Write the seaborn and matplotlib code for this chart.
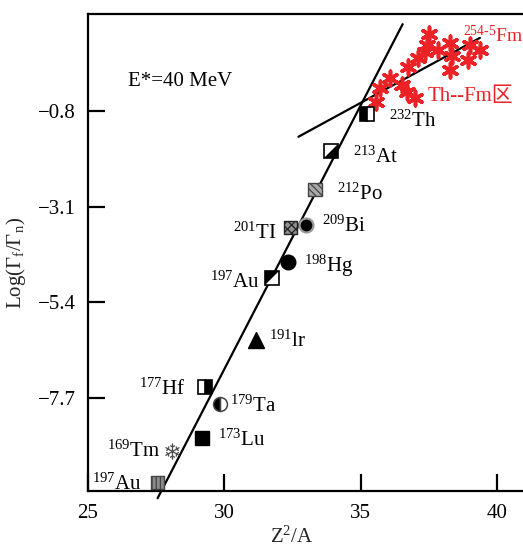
import numpy as np
import pandas as pd
import matplotlib
matplotlib.use("Agg")
import matplotlib.pyplot as plt
import seaborn as sns
from matplotlib.markers import MarkerStyle
from matplotlib.path import Path
from matplotlib.textpath import TextPath
from matplotlib.font_manager import FontProperties

# ---- data -------------------------------------------------------------
mass_numbers = ["197", "169", "173", "177", "179", "191", "197",
                "198", "201", "209", "212", "213", "232"]
symbols = ["Au", "Tm", "Lu", "Hf", "Ta", "lr", "Au",
           "Hg", "TI", "Bi", "Po", "At", "Th"]
z2_over_a = [27.55, 28.04, 29.19, 29.29, 29.84, 31.14, 31.75,
             32.34, 32.43, 33.00, 33.32, 33.90, 35.23]
log_ratio = [-9.75, -8.98, -8.66, -7.45, -7.84, -6.31, -4.81,
             -4.44, -3.61, -3.54, -2.68, -1.76, -0.87]

# Th--Fm systematics
thfm_z2a = [35.54, 35.70, 36.07, 36.50, 36.68, 36.98, 36.74, 37.10, 37.35,
            37.50, 37.83, 38.27, 38.34, 39.00, 39.36, 38.92, 38.27, 37.42]
thfm_log = [-0.58, -0.25, -0.01, -0.17, -0.34, -0.49, 0.27, 0.47, 0.63,
            1.05, 0.67, 0.84, 0.52, 0.79, 0.67, 0.43, 0.19, 0.79]

# fitted trend lines (end points)
steep_x = [27.55, 36.53]
steep_y = [-10.12, 1.29]
shallow_x = [32.71, 39.36]
shallow_y = [-1.42, 0.96]

x_ticks = [25, 30, 35, 40]
y_ticks = [-0.8, -3.1, -5.4, -7.7]

# ---- style ------------------------------------------------------------
sns.set_style("ticks")
plt.rcParams["font.family"] = ["Liberation Serif", "Noto Sans CJK SC"]
plt.rcParams["mathtext.fontset"] = "custom"
plt.rcParams["mathtext.rm"] = "Liberation Serif"
plt.rcParams["mathtext.it"] = "Liberation Serif:italic"
plt.rcParams["mathtext.default"] = "regular"
plt.rcParams["hatch.linewidth"] = 0.9

RED = "#ec2227"

fig = plt.figure(figsize=(5.23, 5.47), dpi=100)
ax = fig.add_axes([88 / 523, 56 / 547, 435 / 523, 477 / 547])

# trend lines
sns.lineplot(x=steep_x, y=steep_y, ax=ax, color="black", lw=1.6,
             clip_on=False, zorder=2)
sns.lineplot(x=shallow_x, y=shallow_y, ax=ax, color="black", lw=1.6,
             zorder=2)

# Th--Fm asterisks
sns.scatterplot(x=thfm_z2a, y=thfm_log, ax=ax, marker=(6, 2, 0), s=110,
                color=RED, linewidth=2.6, zorder=3)

# custom marker shapes
tri_lower_right = MarkerStyle(Path([(-1, -1), (1, -1), (1, 1), (-1, -1)],
                                   closed=True))
tri_upper_left = MarkerStyle(Path([(-1, -1), (-1, 1), (1, 1), (-1, -1)],
                                  closed=True))
_tp = TextPath((0, 0), "\u2744", prop=FontProperties(family="DejaVu Sans"))
_v = _tp.vertices
_c = (_v.min(axis=0) + _v.max(axis=0)) / 2
snowflake = MarkerStyle(Path(_v - _c, _tp.codes))

MS = 9.5  # square side in points


def pt(i):
    return [z2_over_a[i]], [log_ratio[i]]


# 0: 197Au (bottom) vertical stripes
x, y = pt(0)
sns.scatterplot(x=x, y=y, ax=ax, marker="s", s=MS ** 2, color="#8a8a8a",
                edgecolor="#444444", linewidth=1.0, hatch="||||",
                clip_on=False, zorder=4)
# 1: 169Tm snowflake
x, y = pt(1)
ax.plot(x, y, linestyle="none", marker=snowflake, ms=12, color="#505050",
        mew=0, zorder=4)
# 2: 173Lu solid square
x, y = pt(2)
ax.plot(x, y, linestyle="none", marker="s", ms=MS, mfc="black", mec="black",
        zorder=4)
# 3: 177Hf right-half filled square
x, y = pt(3)
ax.plot(x, y, linestyle="none", marker="s", ms=MS, fillstyle="right",
        mfc="black", mfcalt="white", mec="black", mew=1.2, zorder=4)
# 4: 179Ta left-half filled circle
x, y = pt(4)
ax.plot(x, y, linestyle="none", marker="o", ms=10, fillstyle="left",
        mfc="black", mfcalt="white", mec="#444444", mew=1.1, zorder=4)
# 5: 191Ir solid triangle
x, y = pt(5)
ax.plot(x, y, linestyle="none", marker="^", ms=11, mfc="black", mec="black",
        zorder=4)
# 6: 197Au square with upper-left triangle filled
x, y = pt(6)
ax.plot(x, y, linestyle="none", marker="s", ms=MS, mfc="white", mec="black",
        mew=1.2, zorder=4)
ax.plot(x, y, linestyle="none", marker=tri_upper_left, ms=MS, mfc="black",
        mew=0, zorder=5)
# 7: 198Hg solid circle
x, y = pt(7)
ax.plot(x, y, linestyle="none", marker="o", ms=10.5, mfc="black",
        mec="black", zorder=4)
# 8: 201Tl checkered square
x, y = pt(8)
sns.scatterplot(x=x, y=y, ax=ax, marker="s", s=MS ** 2, color="#8f8f8f",
                edgecolor="#222222", linewidth=1.0, hatch="xxxx", zorder=4)
# 9: 209Bi solid circle with grey rim
x, y = pt(9)
ax.plot(x, y, linestyle="none", marker="o", ms=10, mfc="black",
        mec="#9a9a9a", mew=1.6, zorder=5)
# 10: 212Po diagonal hatched square
x, y = pt(10)
sns.scatterplot(x=x, y=y, ax=ax, marker="s", s=MS ** 2, color="#a8a8a8",
                edgecolor="#444444", linewidth=1.0, hatch="\\\\\\\\\\",
                zorder=4)
# 11: 213At square with lower-right triangle filled
x, y = pt(11)
ax.plot(x, y, linestyle="none", marker="s", ms=MS, mfc="white", mec="black",
        mew=1.2, zorder=4)
ax.plot(x, y, linestyle="none", marker=tri_lower_right, ms=MS, mfc="black",
        mew=0, zorder=5)
# 12: 232Th left-half filled square
x, y = pt(12)
ax.plot(x, y, linestyle="none", marker="s", ms=MS, fillstyle="left",
        mfc="black", mfcalt="white", mec="black", mew=1.2, zorder=4)

# nuclide labels: (dx, dy) pixel offsets from the marker, alignment
label_place = [(-16, -7, "right"), (-11, -6, "right"), (16, -8, "left"),
               (-19, -8, "right"), (10, -8, "left"), (13, -7, "left"),
               (-12, -10, "right"), (16, -10, "left"), (-14, -11, "right"),
               (16, -7, "left"), (22, -11, "left"), (22, -12, "left"),
               (22, -13, "left")]
for i, (dx, dy, ha) in enumerate(label_place):
    ax.annotate(r"$^{%s}$%s" % (mass_numbers[i], symbols[i]),
                xy=(z2_over_a[i], log_ratio[i]), xytext=(dx, dy),
                textcoords="offset pixels", ha=ha, va="baseline",
                fontsize=15, color="black", annotation_clip=False, zorder=6)

ax.text(38.74, 0.86, r"$^{254\text{-}5}$Fm", color=RED, fontsize=14,
        ha="left", va="baseline")
ax.text(37.46, -0.55, "Th--Fm区", color=RED, fontsize=15, ha="left",
        va="baseline", family=["Liberation Serif", "Noto Sans CJK SC"])
ax.text(26.47, -0.20, "E*=40 MeV", color="black", fontsize=15, ha="left",
        va="baseline")

# ---- axes -------------------------------------------------------------
ax.set_xlim(25, 40.94)
ax.set_ylim(-9.946, 1.535)
ax.set_xticks(x_ticks)
ax.set_yticks(y_ticks)
ax.set_xticklabels([str(t) for t in x_ticks])
ax.set_yticklabels(["\u2212%.1f" % abs(t) for t in y_ticks])
ax.tick_params(direction="in", length=12, width=1.6, labelsize=15, pad=9,
               colors="black")
for side in ("left", "bottom", "top"):
    ax.spines[side].set_linewidth(1.6)
    ax.spines[side].set_color("black")
ax.spines["right"].set_visible(False)

ax.set_xlabel("Z$^{2}$/A", fontsize=15)
ax.xaxis.set_label_coords(0.469, -0.074)
ax.set_ylabel("Log(Γ$_{f}$/Γ$_{n}$)", fontsize=15)
ax.yaxis.set_label_coords(-0.138, 0.478)

fig.savefig("out.png", dpi=100)
